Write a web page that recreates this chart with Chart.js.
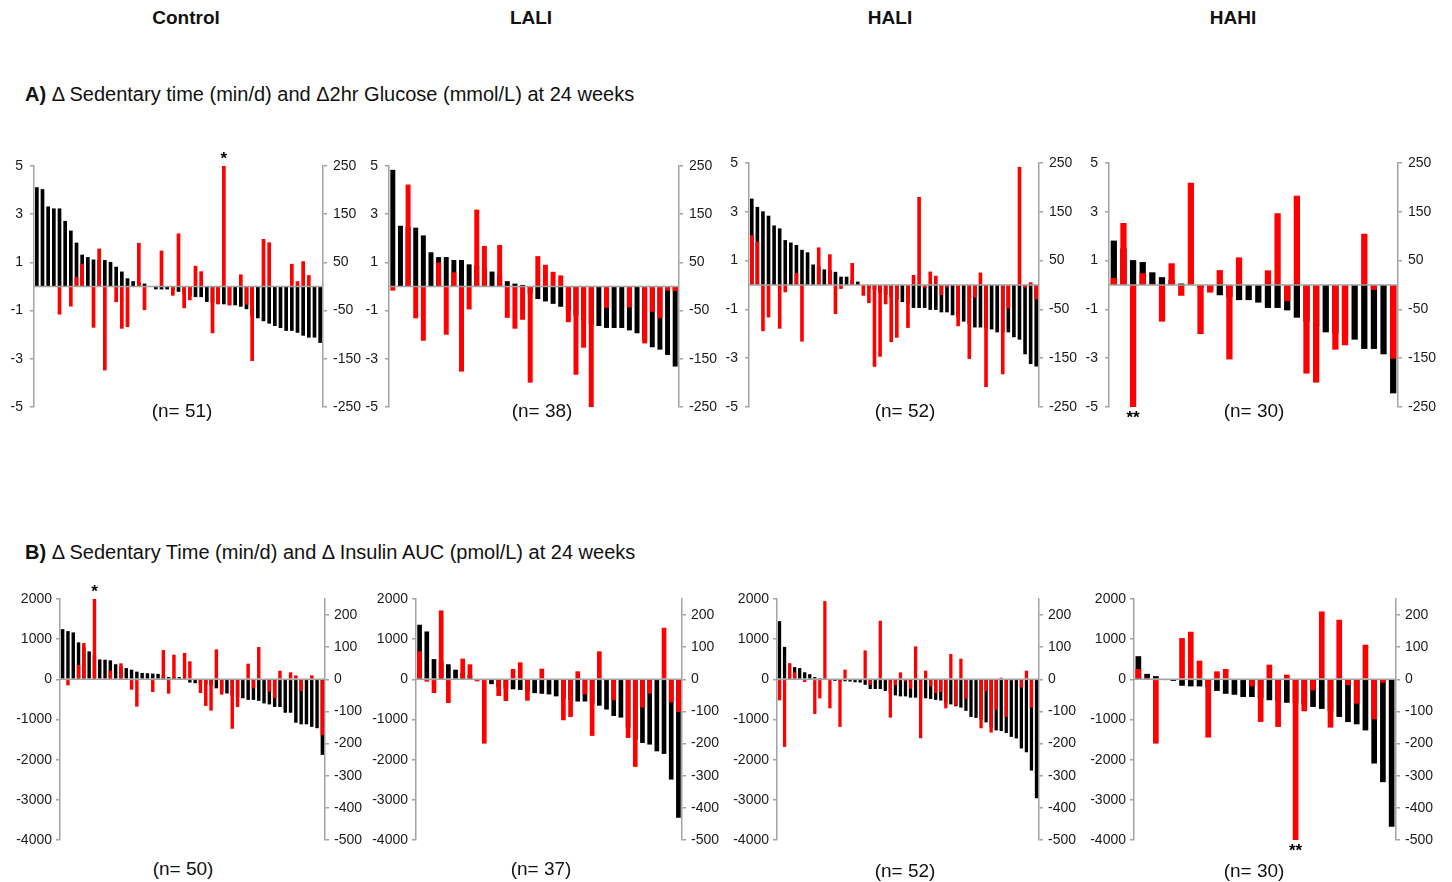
<!DOCTYPE html>
<html>
<head>
<meta charset="utf-8">
<script src="https://cdn.jsdelivr.net/npm/chart.js@4.4.0/dist/chart.umd.min.js"></script>
<style>
  body { margin: 0; width: 1452px; height: 882px; background: #fff; position: relative; overflow: hidden;
         font-family: "Liberation Sans", Arial, Helvetica, sans-serif; color: #111; }
  canvas { position: absolute; }
  .txt { position: absolute; white-space: nowrap; transform: translate(-50%, -50%); }
  .group { font-weight: bold; font-size: 19px; }
  .head { position: absolute; white-space: nowrap; transform: translateY(-50%); font-size: 20px; }
  .n { font-size: 19px; }
</style>
</head>
<body>
<script>
const groupNames = ['Control', 'LALI', 'HALI', 'HAHI']

// A) change in 2hr glucose (mmol/L, red, left axis) and sedentary time (min/d, black, right axis)
const aControlGlucose = [0, 0, 0, 0, -1.16, 0, -0.83, 0.39, 0.94, 0, -1.71, 1.57, -3.48, 0, -0.65, -1.75, -1.68, 0, 1.81, -0.98,
  0, 0, 1.49, 0, -0.38, 2.2, -0.9, -0.57, 0.86, 0.63, 0, -1.94, -0.74, 5.0, -0.79, 0, 0.5, -0.75, -3.09, 0,
  1.97, 1.83, 0, 0, 0, 0.94, 0.22, 1.05, 0.47, 0, 0]
const aControlSedentary = [206, 202, 166, 162, 162, 136, 116, 91, 66, 61, 56, 56, 55, 51, 41, 31, 17, 11, 8, 6,
  0, -6, -6, -6, -7, -11, -15, -19, -22, -22, -32, -34, -36, -37, -38, -39, -42, -47, -60, -66,
  -72, -77, -82, -86, -92, -92, -96, -102, -106, -106, -117]

const aLaliGlucose = [-0.17, 0, 4.23, -1.32, -2.25, 0, 1.0, -2.0, 0.59, -3.53, -0.95, 3.19, 1.68, 0, 1.72, -1.3, -1.75, -1.38, -3.99, 1.26,
  0.9, 0.61, 0.46, -1.48, -3.66, -2.54, -5.0, 0, -0.88, 0, 0, -0.87, 0, -2.36, -1.05, -1.32, -0.17, -0.19]
const aLaliSedentary = [242, 126, 124, 122, 106, 71, 61, 61, 55, 55, 46, 43, 38, 31, 23, 11, 6, 3, -15, -26,
  -31, -36, -42, -50, -60, -70, -78, -82, -86, -86, -86, -91, -97, -110, -126, -131, -142, -166]

const aHaliGlucose = [2.04, 1.78, -1.89, -1.33, 0, -1.79, -0.3, 0, 0.49, -2.32, 0, 0, 1.54, 0, 1.26, -1.19, -0.16, 0, 0.9, 0,
  -0.44, -0.74, -3.35, -2.94, -0.79, -2.34, -2.16, 0, -1.76, 0.41, 3.61, -0.11, 0.55, 0.38, -0.41, -0.1, 0, -1.69, 0, -3.03,
  -0.52, 0.51, -4.18, 0, 0, -3.66, -0.96, 0, 4.84, -0.11, 0.11, -0.59]
const aHaliSedentary = [177, 160, 151, 142, 122, 116, 92, 87, 82, 72, 67, 42, 38, 32, 30, 27, 17, 17, 10, 7,
  0, -5, -10, -15, -20, -25, -30, -35, -38, -47, -47, -47, -51, -51, -56, -56, -62, -65, -75, -80,
  -87, -87, -89, -91, -97, -97, -97, -107, -112, -142, -162, -167]

const aHahiGlucose = [0.29, 2.54, -5.0, 0.48, 0.05, -1.5, 0.89, -0.44, 4.19, -2.01, -0.31, 0.61, -3.05, 1.13, 0, 0, 0.6, 2.94, -0.66, 3.66,
  -3.63, -4.0, 0, -2.65, -2.47, 0, 2.1, -0.2, 0, -3.02]
const aHahiSedentary = [91, 75, 51, 47, 26, 16, 10, 3, 0, -5, -10, -21, -25, -31, -31, -36, -47, -47, -52, -67,
  -75, -85, -97, -100, -105, -112, -131, -131, -142, -222]

// B) change in insulin AUC (pmol/L, red, left axis) and sedentary time (min/d, black, right axis)
const bControlInsulin = [0, -149, 0, 356, 903, 0, 2000, 0, 0, 215, 0, 398, 0, -257, -679, 0, 0, -315, 0, 729,
  -356, 613, 0, 655, 448, 0, -340, -663, -779, 746, -381, 0, -1230, -688, 0, 390, -224, 804, 0, -307,
  -472, 215, 0, 174, 99, -290, 0, 99, 0, -1392]
const bControlSedentary = [156, 150, 146, 115, 100, 87, 75, 62, 61, 59, 47, 41, 35, 30, 24, 20, 19, 18, 17, 13,
  7, 7, 7, 4, -10, -12, -14, -16, -19, -28, -38, -44, -50, -56, -59, -64, -64, -67, -75, -78,
  -86, -86, -104, -104, -135, -140, -140, -148, -152, -235]

const bLaliInsulin = [696, -58, -340, 1715, -588, 0, 514, 373, -50, -1599, 0, -414, -539, 257, 423, -530, 0, 265, 0, 0,
  -1019, -936, 199, -373, -1408, 696, 0, -522, 0, -1458, -2179, -704, -356, 0, 1284, -572, -812]
const bLaliSedentary = [170, 149, 63, 56, 47, 30, 19, 13, 0, -1, -15, -25, -29, -31, -33, -38, -43, -45, -47, -53,
  -60, -65, -69, -69, -75, -82, -94, -114, -119, -150, -188, -198, -203, -224, -232, -312, -431]

const bHaliInsulin = [-522, -1682, 398, 174, 0, -66, 0, -862, -472, 1947, -721, 0, -1185, 240, 0, 0, 0, 721, -133, 0,
  1458, 0, -953, -149, 174, -50, -232, 820, -1466, 215, -174, -340, -315, -721, 630, -655, 514, -481, 0, 0,
  -1218, -290, -1326, -754, 41, -936, -30, 0, -207, 215, -704, 0]
const bHaliSedentary = [181, 101, 49, 38, 35, 22, 16, 7, 4, 1, 0, -5, -6, -6, -7, -9, -10, -17, -30, -30,
  -30, -36, -44, -50, -53, -53, -57, -57, -58, -59, -61, -64, -66, -75, -78, -84, -88, -98, -117, -120,
  -125, -134, -150, -159, -161, -167, -179, -184, -215, -227, -284, -370]

const bHahiInsulin = [257, 41, -1599, 0, 0, 1027, 1185, 464, -1450, 199, 257, 0, 0, -174, -1060, 365, -1185, 116, -4000, -795,
  -273, 1690, -1201, 1483, -141, -605, 862, -994, -83, 0]
const bHahiSedentary = [72, 17, 10, -1, -5, -20, -22, -22, -25, -36, -45, -48, -55, -55, -58, -65, -68, -73, -75, -78,
  -86, -92, -100, -117, -133, -140, -159, -262, -320, -459]

// axis ticks
const glucoseTicks = [-5, -3, -1, 1, 3, 5]
const sedentaryTicksA = [-250, -150, -50, 50, 150, 250]
const insulinTicks = [-4000, -3000, -2000, -1000, 0, 1000, 2000]
const sedentaryTicksB = [-500, -400, -300, -200, -100, 0, 100, 200]

// significance marks: panel, bar index, text, side
const marksA = [[0, 33, '*', 'above'], [3, 2, '**', 'below']]
const marksB = [[0, 6, '*', 'above'], [3, 18, '**', 'below']]

const rowA = [[aControlGlucose, aControlSedentary], [aLaliGlucose, aLaliSedentary], [aHaliGlucose, aHaliSedentary], [aHahiGlucose, aHahiSedentary]]
const rowB = [[bControlInsulin, bControlSedentary], [bLaliInsulin, bLaliSedentary], [bHaliInsulin, bHaliSedentary], [bHahiInsulin, bHahiSedentary]]

// layout (page pixels): left axis x, right axis x, plot top, plot bottom
const boxesA = [[34, 323, 166, 407], [389, 679, 166, 407], [749, 1039, 163, 407], [1109, 1398, 163, 407]]
const boxesB = [[60, 325, 599, 840], [416, 682, 599, 840], [777, 1039, 599, 840], [1134, 1396, 599, 840]]
const groupX = [186, 531, 890, 1233]
const nXA = [182, 542, 905, 1254]
const nXB = [183, 541, 905, 1254]
const nYB = [869, 869, 871, 871]

const FONT = '"Liberation Sans", Arial, Helvetica, sans-serif'
const GREY = '#a3a3a3'
const SIDE = 50
const PAD = 18

const zeroLine = {
  id: 'zeroLine',
  afterDatasetsDraw(chart, args, opts) {
    const { ctx, chartArea } = chart
    const y0 = chart.scales.y.getPixelForValue(0)
    ctx.save()
    ctx.strokeStyle = GREY
    ctx.lineWidth = 1.5
    ctx.beginPath()
    ctx.moveTo(chartArea.left, y0)
    ctx.lineTo(chartArea.right, y0)
    ctx.stroke()

    ctx.fillStyle = '#000'
    ctx.font = 'bold 17px ' + FONT
    ctx.textAlign = 'center'
    ctx.textBaseline = 'middle'
    ;(opts.marks || []).forEach(m => {
      const bar = chart.getDatasetMeta(0).data[m[0]]
      const y = m[2] === 'above' ? bar.y - 7 : bar.y + 11
      ctx.fillText(m[1], bar.x, y)
    })
    ctx.restore()
  }
}

const axisOpts = (pos, min, max, ticks, pad) => ({
  position: pos,
  min: min,
  max: max,
  afterBuildTicks: s => { s.ticks = ticks.map(v => ({ value: v })) },
  afterFit: s => { s.width = SIDE },
  grid: { drawOnChartArea: false, drawTicks: true, tickLength: 4, color: GREY, lineWidth: 1.5 },
  border: { display: true, color: GREY, width: 1.5 },
  ticks: { color: '#1a1a1a', padding: pad, font: { family: FONT, size: 14 }, callback: v => String(v) }
})

function makePanel(box, values, row, marks) {
  const [x0, x1, top, bottom] = box
  const canvas = document.createElement('canvas')
  const w = x1 - x0 + SIDE * 2
  const h = bottom - top + PAD * 2
  canvas.width = w
  canvas.height = h
  canvas.style.width = w + 'px'
  canvas.style.height = h + 'px'
  canvas.style.left = (x0 - SIDE) + 'px'
  canvas.style.top = (top - PAD) + 'px'
  document.body.appendChild(canvas)

  const [red, black] = values
  const labels = red.map((_, i) => i + 1)
  const isA = row === 'A'

  new Chart(canvas, {
    type: 'bar',
    data: {
      labels,
      datasets: [
        { data: red, backgroundColor: '#ff0000', yAxisID: 'y', grouped: false, barPercentage: 0.65, categoryPercentage: 1 },
        { data: black, backgroundColor: '#000000', yAxisID: 'y2', grouped: false, barPercentage: 0.65, categoryPercentage: 1 }
      ]
    },
    options: {
      responsive: false,
      animation: false,
      devicePixelRatio: 1,
      layout: { padding: { top: PAD, bottom: PAD, left: 0, right: 0 } },
      scales: {
        x: { display: false, offset: true },
        y: isA ? axisOpts('left', -5, 5, glucoseTicks, 7) : axisOpts('left', -4000, 2000, insulinTicks, 4),
        y2: isA ? axisOpts('right', -250, 250, sedentaryTicksA, 6) : axisOpts('right', -500, 250, sedentaryTicksB, 5)
      },
      plugins: {
        legend: { display: false },
        tooltip: { enabled: false },
        zeroLine: { marks }
      }
    },
    plugins: [zeroLine]
  })
}

function addText(cls, text, x, y) {
  const d = document.createElement('div')
  d.className = 'txt ' + cls
  d.textContent = text
  d.style.left = x + 'px'
  d.style.top = y + 'px'
  document.body.appendChild(d)
}

groupNames.forEach((g, i) => addText('group', g, groupX[i], 18))

const headA = document.createElement('div')
headA.className = 'head'
headA.style.left = '25px'
headA.style.top = '94px'
headA.innerHTML = '<b>A)</b> Δ Sedentary time (min/d) and Δ2hr Glucose (mmol/L) at 24 weeks'
document.body.appendChild(headA)

const headB = document.createElement('div')
headB.className = 'head'
headB.style.left = '25px'
headB.style.top = '552px'
headB.innerHTML = '<b>B)</b> Δ Sedentary Time (min/d) and Δ Insulin AUC (pmol/L) at 24 weeks'
document.body.appendChild(headB)

rowA.forEach((vals, i) => {
  makePanel(boxesA[i], vals, 'A', marksA.filter(m => m[0] === i).map(m => m.slice(1)))
  addText('n', '(n= ' + vals[0].length + ')', nXA[i], 411)
})
rowB.forEach((vals, i) => {
  makePanel(boxesB[i], vals, 'B', marksB.filter(m => m[0] === i).map(m => m.slice(1)))
  addText('n', '(n= ' + vals[0].length + ')', nXB[i], nYB[i])
})
</script>
</body>
</html>
